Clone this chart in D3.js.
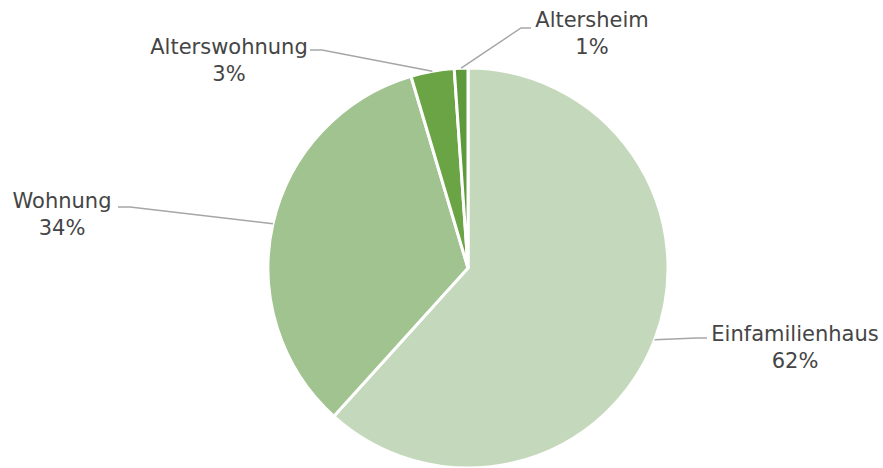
<!DOCTYPE html>
<html>
  <head>
    <style>
      body { margin: 0; background: #fff; }
      .label { font-family: "DejaVu Sans", Verdana, sans-serif; font-size: 21px; fill: #454545; }
      .leader { fill: none; stroke: #a6a6a6; stroke-width: 1.5; }
    </style>
    <script src="https://d3js.org/d3.v7.min.js"></script>
  </head>
  <body>
    <svg id="chart" width="883" height="468"></svg>

    <script>
      // data
      var categories = ["Einfamilienhaus", "Wohnung", "Alterswohnung", "Altersheim"];
      var values = [61.7, 33.7, 3.5, 1.1];
      var percentLabels = ["62%", "34%", "3%", "1%"];
      var colors = ["#c4d8bb", "#a1c390", "#6aa444", "#5e9a3c"];

      var svg = d3.select("#chart");
      var cx = 468, cy = 268, radius = 200;

      var pie = d3.pie().sort(null).value(function(d) { return d; });
      var arc = d3.arc().innerRadius(0).outerRadius(radius);
      var arcs = pie(values);

      var g = svg.append("g").attr("transform", "translate(" + cx + "," + cy + ")");

      g.selectAll("path.slice")
        .data(arcs)
        .enter().append("path")
        .attr("class", "slice")
        .attr("d", arc)
        .attr("fill", function(d, i) { return colors[i]; })
        .attr("stroke", "#fff")
        .attr("stroke-width", 3)
        .attr("stroke-linejoin", "round");

      // label placement (text centre, first baseline) and leader elbow, per slice
      var labelPos = [
        { x: 795, y: 341, elbow: [707, 338], side: "right" },
        { x: 62, y: 208, elbow: [118, 207], side: "left" },
        { x: 229, y: 54, elbow: [310, 50], side: "left" },
        { x: 592, y: 27, elbow: [531, 28], side: "right" }
      ];

      // point on the arc edge for each slice
      function edgePoint(d) {
        var a = (d.startAngle + d.endAngle) / 2;
        return [cx + Math.sin(a) * radius, cy - Math.cos(a) * radius];
      }

      arcs.forEach(function(d, i) {
        var p = labelPos[i];
        var e = edgePoint(d);
        var pts;
        if (p.side === "right") {
          pts = [e, [p.elbow[0] - 10, p.elbow[1]], p.elbow];
        } else {
          pts = [p.elbow, [p.elbow[0] + 12, p.elbow[1]], e];
        }
        svg.append("path")
          .attr("class", "leader")
          .attr("d", d3.line()(pts));

        var t = svg.append("text")
          .attr("class", "label")
          .attr("text-anchor", "middle")
          .attr("x", p.x)
          .attr("y", p.y);
        t.append("tspan").attr("x", p.x).text(categories[i]);
        t.append("tspan").attr("x", p.x).attr("dy", 27).text(percentLabels[i]);
      });
    </script>
  </body>
</html>
